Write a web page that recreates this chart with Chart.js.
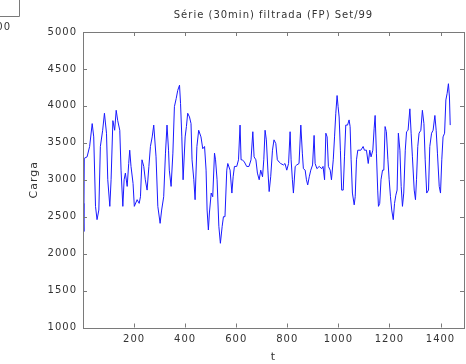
<!DOCTYPE html>
<html>
<head>
<meta charset="utf-8">
<script src="https://cdn.jsdelivr.net/npm/chart.js@4"></script>
<style>
  html,body{margin:0;padding:0;background:#fff;}
  #wrap{width:466px;height:364px;position:relative;}
</style>
</head>
<body>
<div id="wrap"><canvas id="c"></canvas></div>
<script>
// Série filtrada (30 min) — carga vs t
const TITLE = "Série (30min) filtrada (FP) Set/99";
const xTicks = [200,400,600,800,1000,1200,1400];
const yTicks = [1000,1500,2000,2500,3000,3500,4000,4500,5000];

const tVals = [0,3,5,16,26,36,42,49,55,62,68,77,84,92,97,105,110,117,124,130,136,144,149,156,161,166,173,179,183,188,196,201,212,220,225,231,238,244,251,258,264,271,277,
  286,293,302,308,316,323,329,335,338,345,352,358,365,371,378,382,387,392,400,405,410,417,423,427,434,439,446,453,462,469,476,482,486,491,495,502,508,515,519,525,532,538,545,550,556,563,567,
  576,583,588,593,602,609,615,619,624,632,641,650,658,665,670,677,683,690,696,703,708,713,718,724,729,735,742,748,755,761,768,774,785,791,798,805,811,815,820,824,831,837,846,853,859,
  863,870,875,880,886,892,899,905,909,916,925,935,940,946,951,956,961,968,973,980,985,990,995,999,1003,1008,1013,1019,1024,1029,1036,1042,1046,1050,1055,1062,1066,1071,1076,1088,1097,1102,1110,1117,1123,1128,1135,1140,1144,1149,1154,
  1157,1162,1167,1173,1178,1183,1188,1194,1199,1204,1209,1215,1220,1225,1230,1235,1241,1246,1251,1256,1262,1267,1273,1280,1285,1290,1297,1302,1306,1311,1316,1323,1329,1335,1340,1346,1353,1358,1365,1371,1378,1383,1388,1395,1400,1405,1410,1416,1421,1426,1431,1435,1438];
const carga = [2680,2300,3290,3310,3450,3760,3580,2640,2460,2590,3450,3670,3900,3630,3000,2640,3000,3800,3670,3940,3800,3670,3130,2640,3000,3090,2910,3220,3400,3180,2950,2640,2730,2680,2770,3270,3180,3000,2860,3180,3450,3580,3740,
  3310,2640,2410,2590,2770,3360,3740,3400,3130,2910,3360,3990,4100,4210,4280,4030,3580,3000,3580,3720,3900,3850,3760,3270,3000,2730,3450,3670,3580,3420,3450,3130,2590,2320,2550,2820,2770,3360,3270,3000,2370,2140,2370,2500,2500,3130,3220,
  3130,2820,3040,3180,3180,3270,3740,3270,3270,3240,3180,3180,3270,3650,3310,3270,3090,3000,3130,3040,3270,3670,3540,3130,2840,3040,3400,3540,3490,3270,3240,3220,3200,3220,3130,3220,3650,3270,3000,2820,3180,3200,3220,3740,3360,
  3150,3130,3000,2930,3040,3130,3200,3600,3220,3150,3180,3150,3180,3000,3630,3580,3180,3130,3000,3270,3580,3900,4140,3990,3850,3400,2860,2860,3310,3740,3740,3810,3720,3270,2820,2660,2770,3270,3400,3400,3450,3400,3400,3220,3400,3310,3400,3690,3870,3360,2860,
  2640,2680,3000,3130,3130,3720,3650,3270,3000,2770,2590,2460,2680,2790,2860,3630,3400,2910,2640,2820,3400,3650,3670,3960,3630,3310,2860,2730,3000,3450,3630,3670,3940,3760,3270,2820,2860,3450,3630,3670,3870,3670,3360,2910,2820,3270,3580,3630,4080,4170,4300,4120,3740];

const FONT = {family:"DejaVu Sans", size:10};
const INK = "#333", AXIS = "#7a7a7a";

// matlab-ish box with inward ticks, title over the axes, cropped neighbour in the corner
const boxPlugin = {
  id:"box",
  beforeDraw(c){ c.ctx.letterSpacing = "1px"; },
  afterDraw(c){
    const {ctx, chartArea:a, scales:{x, y}} = c;
    ctx.save();
    ctx.strokeStyle = AXIS; ctx.lineWidth = 1;
    ctx.strokeRect(Math.round(a.left)+0.5, Math.round(a.top)+0.5, Math.round(a.right-a.left), Math.round(a.bottom-a.top));
    ctx.beginPath();
    xTicks.forEach(v=>{
      const px = Math.round(x.getPixelForValue(v))+0.5;
      ctx.moveTo(px, a.bottom); ctx.lineTo(px, a.bottom-4);
      ctx.moveTo(px, a.top); ctx.lineTo(px, a.top+4);
    });
    yTicks.forEach(v=>{
      const py = Math.round(y.getPixelForValue(v))+0.5;
      ctx.moveTo(a.left, py); ctx.lineTo(a.left+4, py);
      ctx.moveTo(a.right, py); ctx.lineTo(a.right-4, py);
    });
    // corner of the plot next to this one
    ctx.moveTo(19.5, 0); ctx.lineTo(19.5, 16.5); ctx.lineTo(0, 16.5);
    ctx.stroke();
    ctx.fillStyle = INK;
    ctx.font = "10px 'DejaVu Sans'";
    ctx.textBaseline = "middle";
    ctx.textAlign = "right";
    ctx.fillText("1000", 11, 27);
    ctx.textAlign = "center";
    ctx.fillText(TITLE, (a.left+a.right)/2, 15.5);
    ctx.restore();
  }
};

new Chart(document.getElementById("c"), {
  type:"line",
  data:{datasets:[{
    data:tVals.map((t,i)=>({x:t, y:carga[i]})),
    borderColor:"#1a1aff", borderWidth:1, pointRadius:0, tension:0, fill:false
  }]},
  options:{
    responsive:true, maintainAspectRatio:false, animation:false,
    layout:{padding:{top:32, right:2, left:0, bottom:0}},
    plugins:{legend:{display:false}, tooltip:{enabled:false}, title:{display:false}},
    scales:{
      x:{type:"linear", min:0, max:1492,
        afterBuildTicks:s=>{ s.ticks = xTicks.map(v=>({value:v})); },
        afterFit:s=>{ s.height = 36.5; },
        grid:{display:false, drawTicks:false}, border:{display:false},
        ticks:{color:INK, font:FONT, padding:6, maxRotation:0, autoSkip:false, callback:v=>String(v)},
        title:{display:true, text:"t", color:INK, font:{family:"DejaVu Sans", size:11}, padding:{top:0,bottom:0}}
      },
      y:{min:1000, max:5000,
        afterBuildTicks:s=>{ s.ticks = yTicks.map(v=>({value:v})); },
        afterFit:s=>{ s.width = 83; },
        grid:{display:false, drawTicks:false}, border:{display:false},
        ticks:{color:INK, font:FONT, padding:6, callback:v=>String(v)},
        title:{display:true, text:"Carga", color:INK, font:{family:"DejaVu Sans", size:11}, padding:{top:28,bottom:0}}
      }
    }
  },
  plugins:[boxPlugin]
});
</script>
</body>
</html>
